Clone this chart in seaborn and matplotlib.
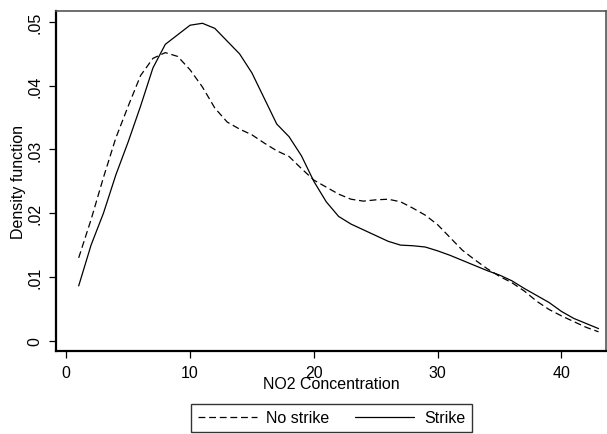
import pandas as pd
import matplotlib.pyplot as plt
import seaborn as sns
from matplotlib.lines import Line2D

no2 = list(range(1, 44))
no_strike = [0.0130, 0.0190, 0.0256, 0.0318, 0.0368, 0.0416, 0.0443, 0.0452, 0.0446, 0.0425,
             0.0398, 0.0365, 0.0343, 0.0332, 0.0323, 0.0310, 0.0298, 0.0289, 0.0270, 0.0252,
             0.0241, 0.0230, 0.0222, 0.0219, 0.0221, 0.0222, 0.0218, 0.0208, 0.0197, 0.0182,
             0.0162, 0.0142, 0.0127, 0.0113, 0.0101, 0.0091, 0.0078, 0.0062, 0.0049, 0.0039,
             0.0030, 0.0021, 0.0014]
strike = [0.0086, 0.0150, 0.0200, 0.0260, 0.0312, 0.0368, 0.0428, 0.0465, 0.0480, 0.0495,
          0.0498, 0.0490, 0.0470, 0.0450, 0.0420, 0.0380, 0.0340, 0.0320, 0.0290, 0.0250,
          0.0218, 0.0195, 0.0183, 0.0174, 0.0165, 0.0156, 0.0150, 0.0149, 0.0147, 0.0141,
          0.0134, 0.0126, 0.0118, 0.0110, 0.0103, 0.0094, 0.0082, 0.0071, 0.0060, 0.0046,
          0.0035, 0.0027, 0.0019]
groups = ['No strike', 'Strike']
yticks = [0, 0.01, 0.02, 0.03, 0.04, 0.05]
ytick_labels = ['0', '.01', '.02', '.03', '.04', '.05']
xticks = [0, 10, 20, 30, 40]

df = pd.DataFrame({
    'NO2': no2 * 2,
    'density': no_strike + strike,
    'group': [groups[0]] * len(no2) + [groups[1]] * len(no2),
})

sns.set_style('white')
plt.rcParams['font.family'] = ['Liberation Sans', 'DejaVu Sans']
plt.rcParams.update({'text.color': 'black', 'axes.labelcolor': 'black',
                     'xtick.color': 'black', 'ytick.color': 'black'})

fig = plt.figure(figsize=(6.07, 4.35), dpi=100)
ax = fig.add_axes([0.0923, 0.191, 0.906, 0.781])

dash = (5.5, 3)
sns.lineplot(data=df, x='NO2', y='density', style='group', style_order=groups,
             dashes={'No strike': dash, 'Strike': ''}, color='black',
             linewidth=0.9, legend=False, ax=ax)

ax.set_xlim(-0.83, 43.6)
ax.set_ylim(-0.0016, 0.0517)
ax.set_xticks(xticks)
ax.set_yticks(yticks)
ax.set_yticklabels(ytick_labels, rotation=90, va='center')
ax.tick_params(axis='both', direction='out', length=5, width=0.9, color='black',
               labelcolor='black', labelsize=11.5, bottom=True, left=True)
ax.tick_params(axis='x', pad=5)
ax.tick_params(axis='y', pad=5)
ax.set_xlabel('NO2 Concentration', fontsize=11.5, labelpad=-3, color='black')
ax.set_ylabel('Density function', fontsize=11.5, labelpad=1, color='black')

for s in ['left', 'bottom']:
    ax.spines[s].set_color('black')
    ax.spines[s].set_linewidth(1.6)
for s in ['top', 'right']:
    ax.spines[s].set_color('#555555')
    ax.spines[s].set_linewidth(1.2)

handles = [Line2D([], [], color='black', lw=0.9, dashes=dash),
           Line2D([], [], color='black', lw=0.9)]
leg = fig.legend(handles, groups, loc='center', bbox_to_anchor=(331.5 / 607, 1 - 419 / 435),
                 ncol=2, frameon=True, fancybox=False, fontsize=11.5, handlelength=3.7,
                 handletextpad=0.6, columnspacing=1.6, borderpad=0.4, labelcolor='black')
leg.get_frame().set_edgecolor('black')
leg.get_frame().set_linewidth(1.0)

fig.savefig('out.png', dpi=100)
